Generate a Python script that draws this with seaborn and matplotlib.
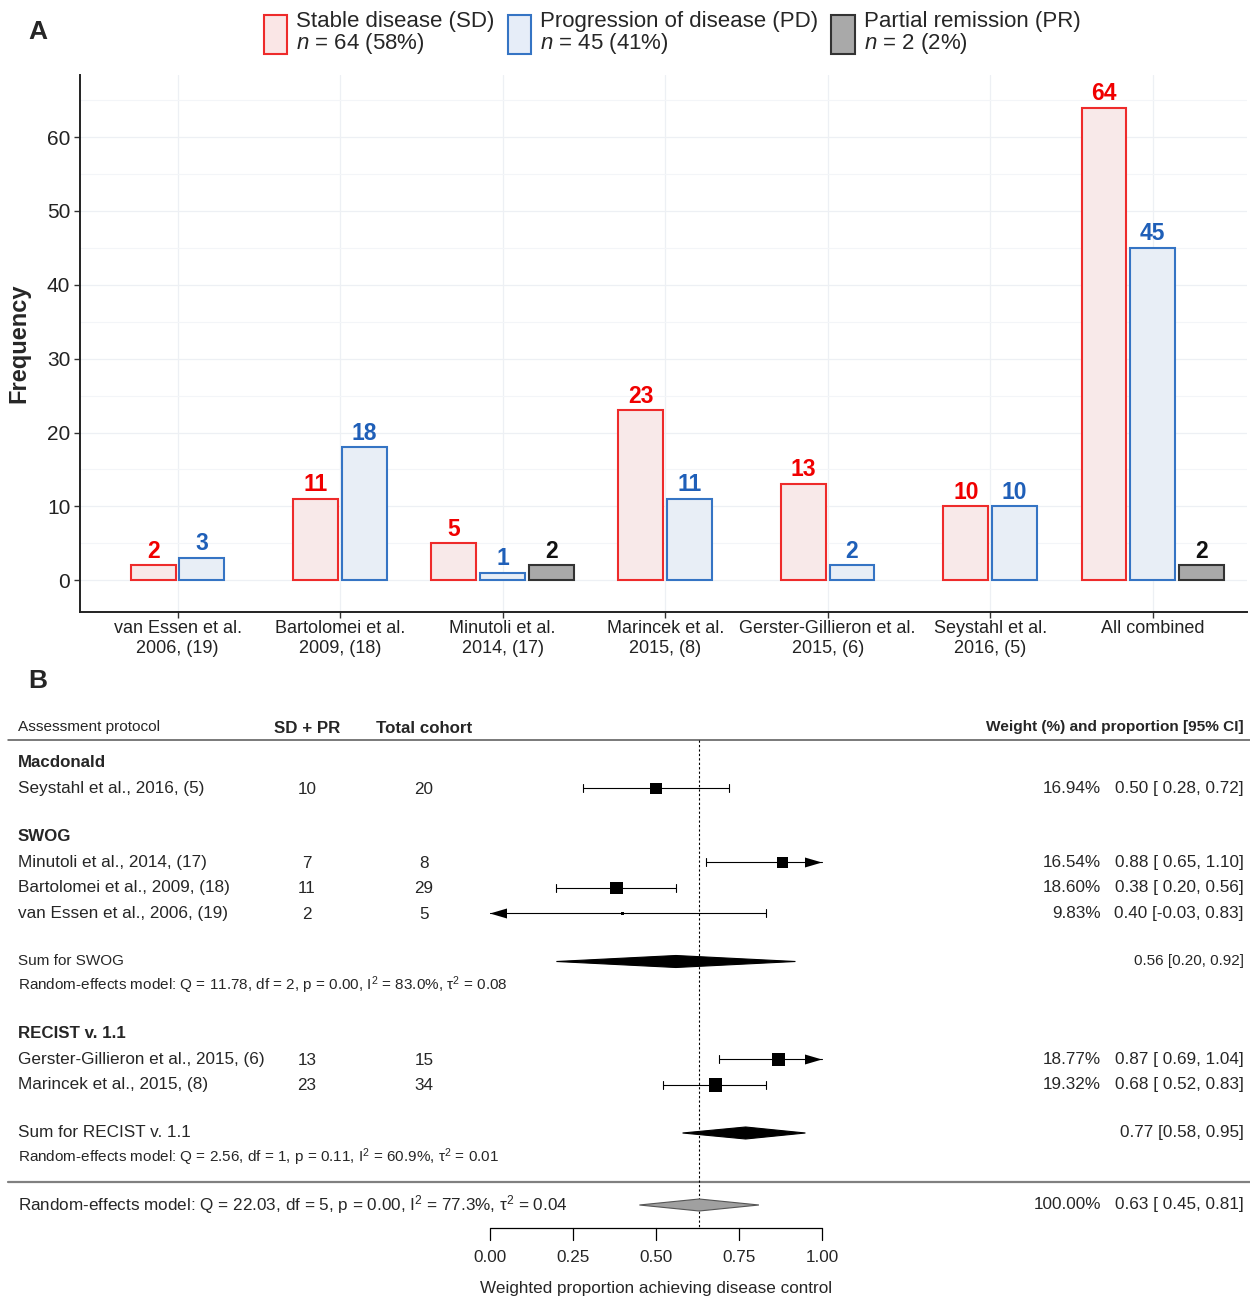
import numpy as np
import pandas as pd
import matplotlib
matplotlib.use("Agg")
import matplotlib.pyplot as plt
import seaborn as sns
from matplotlib.patches import Patch, Polygon
from matplotlib.ticker import MultipleLocator

# ---------------- panel A data ----------------
studies = [
    "van Essen et al.\n2006, (19)",
    "Bartolomei et al.\n2009, (18)",
    "Minutoli et al.\n2014, (17)",
    "Marincek et al.\n2015, (8)",
    "Gerster-Gillieron et al.\n2015, (6)",
    "Seystahl et al.\n2016, (5)",
    "All combined",
]
outcomes = ["SD", "PD", "PR"]
outcome_names = ["Stable disease (SD)", "Progression of disease (PD)", "Partial remission (PR)"]
sd_counts = [2, 11, 5, 23, 13, 10, 64]
pd_counts = [3, 18, 1, 11, 2, 10, 45]
pr_counts = [None, None, 2, None, None, None, 2]   # PR only reported by Minutoli

# ---------------- panel B data ----------------
fp_studies = [
    "Seystahl et al., 2016, (5)",
    "Minutoli et al., 2014, (17)",
    "Bartolomei et al., 2009, (18)",
    "van Essen et al., 2006, (19)",
    "Gerster-Gillieron et al., 2015, (6)",
    "Marincek et al., 2015, (8)",
]
fp_protocol = ["Macdonald", "SWOG", "SWOG", "SWOG", "RECIST v. 1.1", "RECIST v. 1.1"]
fp_events = [10, 7, 11, 2, 13, 23]
fp_cohort = [20, 8, 29, 5, 15, 34]
fp_weight = [16.94, 16.54, 18.60, 9.83, 18.77, 19.32]
fp_est = [0.50, 0.88, 0.38, 0.40, 0.87, 0.68]
fp_lo = [0.28, 0.65, 0.20, -0.03, 0.69, 0.52]
fp_hi = [0.72, 1.10, 0.56, 0.83, 1.04, 0.83]

groups = ["Macdonald", "SWOG", "RECIST v. 1.1"]
sub_est = {"SWOG": 0.56, "RECIST v. 1.1": 0.77}
sub_lo = {"SWOG": 0.20, "RECIST v. 1.1": 0.58}
sub_hi = {"SWOG": 0.92, "RECIST v. 1.1": 0.95}
sub_q = {"SWOG": 11.78, "RECIST v. 1.1": 2.56}
sub_df = {"SWOG": 2, "RECIST v. 1.1": 1}
sub_p = {"SWOG": 0.00, "RECIST v. 1.1": 0.11}
sub_i2 = {"SWOG": 83.0, "RECIST v. 1.1": 60.9}
sub_tau2 = {"SWOG": 0.08, "RECIST v. 1.1": 0.01}
sub_font = {"SWOG": 11, "RECIST v. 1.1": 12.3}   # the two summary rows are set in different sizes

all_est, all_lo, all_hi = 0.63, 0.45, 0.81
all_q, all_df, all_p, all_i2, all_tau2 = 22.03, 5, 0.00, 77.3, 0.04

fills = {"SD": "#FAE6E6", "PD": "#E6EDF8", "PR": "#A9A9A9"}
edges = {"SD": "#EE2B2B", "PD": "#3574C4", "PR": "#333333"}
label_cols = {"SD": "#F00000", "PD": "#1F5FB8", "PR": "#111111"}

rows = []
for i, s in enumerate(studies):
    for o, vals in zip(outcomes, [sd_counts, pd_counts, pr_counts]):
        if vals[i] is not None:
            rows.append({"study": s, "outcome": o, "count": vals[i]})
df = pd.DataFrame(rows)

sns.set_theme(style="ticks")
plt.rcParams["font.family"] = ["Liberation Sans", "DejaVu Sans"]
plt.rcParams["mathtext.fontset"] = "custom"
plt.rcParams["mathtext.rm"] = "Liberation Sans"
plt.rcParams["mathtext.it"] = "Liberation Sans:italic"
plt.rcParams["mathtext.bf"] = "Liberation Sans:bold"

W, H = 1250, 1300
fig = plt.figure(figsize=(W / 100, H / 100), dpi=100)

# ================= panel A =================
axA = fig.add_axes([80 / W, 1 - 612 / H, (1247 - 80) / W, (612 - 75) / H])
for study in studies:
    sub = df[df["study"] == study]
    levels = [o for o in outcomes if o in set(sub["outcome"])]
    n0 = len(axA.containers)
    sns.barplot(data=sub, x="study", y="count", hue="outcome", order=studies,
                hue_order=levels, palette=fills, width=0.3 * len(levels), gap=0.08,
                errorbar=None, legend=False, ax=axA, linewidth=1.5)
    for cont, lev in zip(axA.containers[n0:], levels):
        for bar in cont:
            bar.set_edgecolor(edges[lev])
        axA.bar_label(cont, fmt="%d", padding=2, color=label_cols[lev],
                      fontsize=16.5, fontweight="bold")

axA.set_xlim(-0.6, 6.58)
axA.set_ylim(-4.3, 68.4)
axA.set_yticks(range(0, 61, 10))
axA.yaxis.set_minor_locator(MultipleLocator(5))
axA.set_axisbelow(True)
axA.grid(True, which="major", color="#EDF0F4", lw=0.9)
axA.yaxis.grid(True, which="minor", color="#F3F5F8", lw=0.8)
axA.tick_params(which="minor", length=0)
axA.tick_params(axis="both", which="major", length=4, width=1, color="#333333", pad=3)
axA.tick_params(axis="x", labelsize=13, labelcolor="#222222", pad=2)
axA.tick_params(axis="y", labelsize=15, labelcolor="#222222")
axA.set_xlabel("")
axA.set_ylabel("Frequency", fontsize=17, fontweight="bold", labelpad=12)
sns.despine(ax=axA)
for sp in ["left", "bottom"]:
    axA.spines[sp].set_color("#222222")
    axA.spines[sp].set_linewidth(1.4)

totals = df[df["study"] == "All combined"].set_index("outcome")["count"]
n_all = totals.sum()
handles = [Patch(facecolor=fills[o], edgecolor=edges[o], linewidth=1.5) for o in outcomes]
labels = [f"{nm}\n$n$ = {totals[o]} ({totals[o] / n_all * 100:.0f}%)"
          for nm, o in zip(outcome_names, outcomes)]
leg = fig.legend(handles, labels, ncol=3, loc="upper center", bbox_to_anchor=(672 / W, 1 - 11 / H),
                 frameon=False, fontsize=16, handlelength=1.05, handleheight=2.3,
                 columnspacing=0.6, handletextpad=0.4, labelspacing=0.2,
                 borderpad=0.0, borderaxespad=0.0)
for t in leg.get_texts():
    t.set_linespacing(0.95)

fig.text(38 / W, 1 - 32 / H, "A", ha="center", va="center", fontsize=19, fontweight="bold")
fig.text(38 / W, 1 - 681 / H, "B", ha="center", va="center", fontsize=19, fontweight="bold")

# ================= panel B (forest plot) =================
x0_px, x1_px = 490, 822          # pixel positions of 0 and 1 on the proportion scale


def fx(px):
    return (px - x0_px) / (x1_px - x0_px)


axB = fig.add_axes([0, 0, 1, 600 / H])

big, small = 12.3, 11

# header
hdr_y = 727
axB.text(fx(18), hdr_y, "Assessment protocol", fontsize=11.1, va="center", ha="left")
axB.text(fx(307), hdr_y + 2, "SD + PR", fontsize=12.2, fontweight="bold", va="center", ha="center")
axB.text(fx(424), hdr_y + 2, "Total cohort", fontsize=12.2, fontweight="bold", va="center", ha="center")
axB.text(fx(1244), hdr_y, "Weight (%) and proportion [95% CI]", fontsize=11.1,
         fontweight="bold", va="center", ha="right")
axB.plot([fx(8), fx(W)], [740, 740], color="#555555", lw=1.1)

# row layout
fp = pd.DataFrame({"study": fp_studies, "protocol": fp_protocol, "events": fp_events,
                   "cohort": fp_cohort, "weight": fp_weight, "est": fp_est,
                   "lo": fp_lo, "hi": fp_hi})
y = 763
study_y = {}
sum_rows = []
for g in groups:
    axB.text(fx(18), y, g, fontsize=12.2, fontweight="bold", va="center", ha="left")
    gsub = fp[fp["protocol"] == g]
    for s in gsub["study"]:
        y += 25.5
        study_y[s] = y
    if len(gsub) > 1:
        y += 48
        sum_rows.append((g, y))
        y += 24
    y += 48.5
fp["y"] = fp["study"].map(study_y)

arr = 17 / (x1_px - x0_px)
for _, r in fp.iterrows():
    yy = r["y"]
    axB.text(fx(18), yy, r["study"], fontsize=big, va="center", ha="left")
    axB.text(fx(307), yy + 1, str(r["events"]), fontsize=big, va="center", ha="center")
    axB.text(fx(424), yy + 1, str(r["cohort"]), fontsize=big, va="center", ha="center")
    axB.text(fx(1101), yy, f"{r['weight']:.2f}%", fontsize=big, va="center", ha="right")
    axB.text(fx(1244), yy, f"{r['est']:.2f} [{r['lo']:5.2f}, {r['hi']:.2f}]",
             fontsize=big, va="center", ha="right")
    lo_c, hi_c = max(r["lo"], 0.0), min(r["hi"], 1.0)
    axB.plot([lo_c, hi_c], [yy, yy], color="black", lw=0.8)
    if r["lo"] >= 0:
        axB.plot([lo_c, lo_c], [yy - 4, yy + 4], color="black", lw=0.8)
    else:
        axB.add_patch(Polygon([[lo_c, yy], [lo_c + arr, yy - 5], [lo_c + arr, yy + 5]],
                              closed=True, color="black", lw=0))
    if r["hi"] <= 1:
        axB.plot([hi_c, hi_c], [yy - 4, yy + 4], color="black", lw=0.8)
    else:
        axB.add_patch(Polygon([[hi_c, yy], [hi_c - arr, yy - 5], [hi_c - arr, yy + 5]],
                              closed=True, color="black", lw=0))

sns.scatterplot(data=fp, x="est", y="y", size="weight", sizes=(5, 90), marker="s",
                color="black", edgecolor="black", linewidth=0, legend=False, ax=axB, zorder=5)


def diamond(est, lo, hi, yy, face, edge):
    axB.add_patch(Polygon([[lo, yy], [est, yy - 6], [hi, yy], [est, yy + 6]], closed=True,
                          facecolor=face, edgecolor=edge, lw=0.8, zorder=4))


for g, yy in sum_rows:
    fs = sub_font[g]
    axB.text(fx(18), yy, f"Sum for {g}", fontsize=fs, va="center", ha="left")
    axB.text(fx(1244), yy, f"{sub_est[g]:.2f} [{sub_lo[g]:.2f}, {sub_hi[g]:.2f}]",
             fontsize=fs, va="center", ha="right")
    diamond(sub_est[g], sub_lo[g], sub_hi[g], yy, "black", "black")
    axB.text(fx(18), yy + 24,
             f"Random-effects model: Q = {sub_q[g]:.2f}, df = {sub_df[g]}, p = {sub_p[g]:.2f}, "
             f"$\\mathregular{{I^2}}$ = {sub_i2[g]:.1f}%, $\\mathregular{{\u03c4^2}}$ = {sub_tau2[g]:.2f}",
             fontsize=small, va="center", ha="left")

axB.plot([fx(8), fx(W)], [1182, 1182], color="#808080", lw=1.6)
yo = 1205
axB.text(fx(18), yo,
         f"Random-effects model: Q = {all_q:.2f}, df = {all_df}, p = {all_p:.2f}, "
         f"$\\mathregular{{I^2}}$ = {all_i2:.1f}%, $\\mathregular{{\u03c4^2}}$ = {all_tau2:.2f}",
         fontsize=big, va="center", ha="left")
axB.text(fx(1101), yo, f"{sum(fp_weight):.2f}%", fontsize=big, va="center", ha="right")
axB.text(fx(1244), yo, f"{all_est:.2f} [{all_lo:5.2f}, {all_hi:.2f}]", fontsize=big,
         va="center", ha="right")
diamond(all_est, all_lo, all_hi, yo, "#A0A0A0", "#555555")

# dotted reference line at the pooled estimate
axB.plot([all_est, all_est], [740, 1228], color="black", lw=0.8, linestyle=(0, (2, 2)))

# proportion axis
ticks = [0.0, 0.25, 0.5, 0.75, 1.0]
axB.plot([0, 1], [1228, 1228], color="black", lw=0.9)
for t in ticks:
    axB.plot([t, t], [1228, 1240], color="black", lw=0.9)
    axB.text(t, 1258, f"{t:.2f}", fontsize=big, ha="center", va="center")
axB.text(0.5, 1289, "Weighted proportion achieving disease control", fontsize=big,
         ha="center", va="center")

axB.set_xlim(fx(0), fx(W))
axB.set_ylim(1300, 700)
axB.axis("off")

fig.savefig("out.png", dpi=100)
